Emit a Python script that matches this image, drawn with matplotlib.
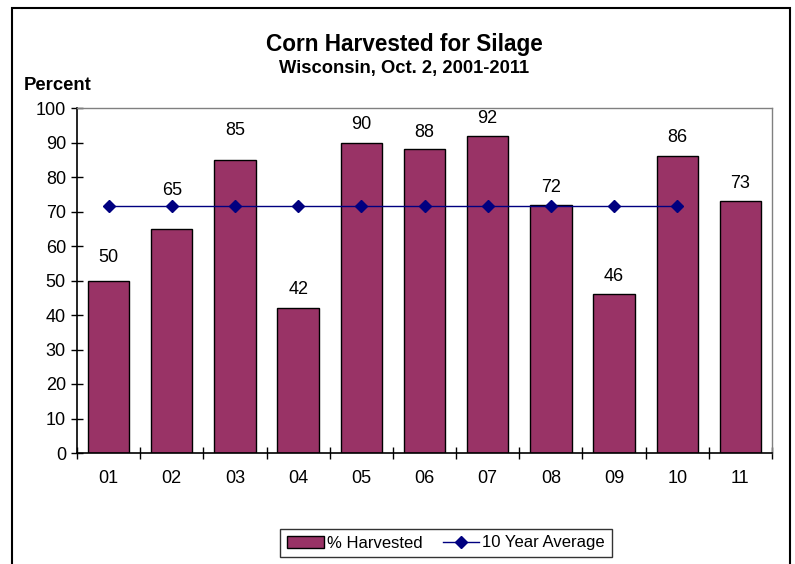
import numpy as np
import matplotlib.pyplot as plt
from matplotlib.patches import Rectangle

plt.rcParams['font.family'] = ['Liberation Sans', 'DejaVu Sans']

years = ['01', '02', '03', '04', '05', '06', '07', '08', '09', '10', '11']
harvested = [50, 65, 85, 42, 90, 88, 92, 72, 46, 86, 73]
avg_years = years[:10]
avg_value = [71.6] * 10
# gap above each bar for its label, in points (a few were nudged in the original)
label_gap = [16.5, 27.5, 21, 13.5, 13, 12.5, 12.5, 12.5, 13, 13.5, 13]

fig = plt.figure(figsize=(7.95, 5.64), dpi=100)

# outer frame
fig.patches.append(Rectangle((12 / 795, -0.05), (790 - 12) / 795, 1.05 - 8 / 564,
                             transform=fig.transFigure, fill=False, edgecolor='black',
                             linewidth=1.5))

ax = fig.add_axes([77 / 795, 1 - 453 / 564, (772 - 77) / 795, (453 - 108) / 564])

x = np.arange(len(years))
bars = ax.bar(x, harvested, width=0.655, color='#993366', edgecolor='black',
              linewidth=1, label='% Harvested', zorder=2)
line, = ax.plot(np.arange(len(avg_years)), avg_value, color='#000080', linewidth=1,
                marker='D', markersize=6, label='10 Year Average', zorder=3)

for xi, v, g in zip(x, harvested, label_gap):
    ax.annotate(str(v), (xi, v), xytext=(0, g), textcoords='offset points',
                ha='center', va='center', fontsize=13)

ax.set_xlim(-0.5, len(years) - 0.5)
ax.set_ylim(0, 100)
ax.set_yticks(range(0, 101, 10))
ax.set_xticks(x)
ax.set_xticklabels(years)
ax.set_xticks(np.arange(-0.5, len(years)), minor=True)
ax.tick_params(axis='x', which='major', length=0, pad=12, labelsize=13)
ax.tick_params(axis='x', which='minor', direction='inout', length=8, width=1)
ax.tick_params(axis='y', direction='inout', length=8, width=1, labelsize=13, pad=4)

for s in ['top', 'right']:
    ax.spines[s].set_color('#808080')
    ax.spines[s].set_linewidth(1)
for s in ['left', 'bottom']:
    ax.spines[s].set_linewidth(1.2)

fig.text(404 / 795, 1 - 44 / 564, 'Corn Harvested for Silage', ha='center', va='center',
         fontsize=16.3, fontweight='bold')
fig.text(404 / 795, 1 - 68 / 564, 'Wisconsin, Oct. 2, 2001-2011', ha='center', va='center',
         fontsize=13.2, fontweight='bold')
fig.text(24 / 795, 1 - 85 / 564, 'Percent', ha='left', va='center',
         fontsize=13.3, fontweight='bold')

leg = fig.legend(handles=[bars, line], loc='center', bbox_to_anchor=(446 / 795, 1 - 543 / 564),
                 ncol=2, frameon=True, fancybox=False, edgecolor='black', fontsize=12,
                 handlelength=2.2, handletextpad=0.2, columnspacing=1.2,
                 borderpad=0.4)
leg.get_frame().set_linewidth(1)

fig.savefig('out.png', dpi=100)
